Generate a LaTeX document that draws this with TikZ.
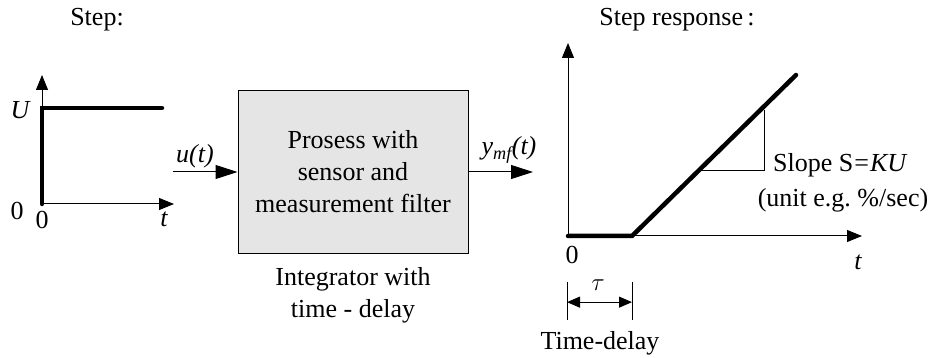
\documentclass[tikz,border=0pt]{standalone}
\usepackage{fontspec}
\setmainfont{Liberation Serif}
\usetikzlibrary{arrows.meta,positioning,calc}

\begin{document}
\begin{tikzpicture}[x=1pt, y=-1pt,
    lbl/.style={font=\fontsize{26}{32}\selectfont, inner sep=0pt, align=center},
    itlbl/.style={lbl, font=\fontsize{26}{32}\selectfont\itshape},
    procbox/.style={rectangle, draw, line width=1pt, fill=gray!20,
        minimum width=230pt, minimum height=162pt,
        font=\fontsize{26}{32}\selectfont, align=center},
    axis/.style={-{Triangle[length=15pt,width=12pt]}, line width=1pt},
    sig/.style={-{Triangle[length=22pt,width=14pt]}, line width=1pt},
    resp/.style={line width=4.5pt, line cap=round},
    dim/.style={{Triangle[length=13pt,width=11pt]}-{Triangle[length=13pt,width=11pt]}, line width=1pt}
]
    \useasboundingbox (0,0) rectangle (937,358);

    % step input
    \node[lbl] (steptitle) at (97,20) {Step:};
    \coordinate (so) at (42,204);
    \coordinate (sy) at (42,75);
    \coordinate (sx) at (174,204);
    \coordinate (su) at (42,108);
    \coordinate (se) at (162,108);
    \draw[axis] (so) -- (sy);
    \draw[axis] (so) -- (sx);
    \draw[resp] (so) -- (su) -- (se);
    \node[itlbl] (ulbl) at (20,110) {U};
    \node[lbl] (szy) at (17,211) {0};
    \node[lbl] (szx) at (42,220) {0};
    \node[itlbl] (stx) at (164,219) {t};

    % process block
    \node[procbox] (proc) at (353,172) {Prosess with\\sensor and\\measurement filter};
    \node[lbl, below=14pt of proc] (integ) {Integrator with\\time - delay};
    \coordinate (uin) at (173,172);
    \coordinate (yout) at (533,172);
    \draw[sig] (uin) -- (proc.west);
    \draw[sig] (proc.east) -- (yout);
    \node[itlbl] (ulbl2) at (195,156) {u(t)};
    \node[itlbl] (ylbl) at (509,150) {y\textsubscript{\textit{mf}}(t)};

    % step response
    \node[lbl] (resptitle) at (677,20) {Step response\,:};
    \coordinate (ro) at (568,236);
    \coordinate (ry) at (568,43);
    \coordinate (rx) at (862,236);
    \coordinate (rd) at (632,236);
    \coordinate (re) at (796,75);
    \draw[axis] (ro) -- (ry);
    \draw[axis] (ro) -- (rx);
    \draw[resp] (ro) -- (rd) -- (re);
    \coordinate (sa) at (700,171);
    \coordinate (sb) at (764,171);
    \coordinate (sc) at (764,110);
    \draw[line width=1pt] (sa) -- (sb) -- (sc);
    \node[lbl, anchor=west] (slope) at (773,165) {Slope S\hspace{1pt}=\hspace{1pt}\textit{KU}};
    \node[lbl] (unit) at (843,200) {(unit e.g.\ \%/sec)};
    \node[lbl] (rzero) at (572,255) {0};
    \node[itlbl] (rtx) at (858,262) {t};

    % time-delay
    \coordinate (ta) at (567,282);
    \coordinate (tb) at (567,320);
    \coordinate (tc) at (632,282);
    \coordinate (td) at (632,320);
    \draw[line width=1pt] (ta) -- (tb);
    \draw[line width=1pt] (tc) -- (td);
    \draw[dim] ($(ta)!0.53!(tb)$) -- ($(tc)!0.53!(td)$);
    \node[lbl] (tau) at (598,285) {$\tau$};
    \node[lbl] (tdelay) at (600,343) {Time-delay};
\end{tikzpicture}
\end{document}
